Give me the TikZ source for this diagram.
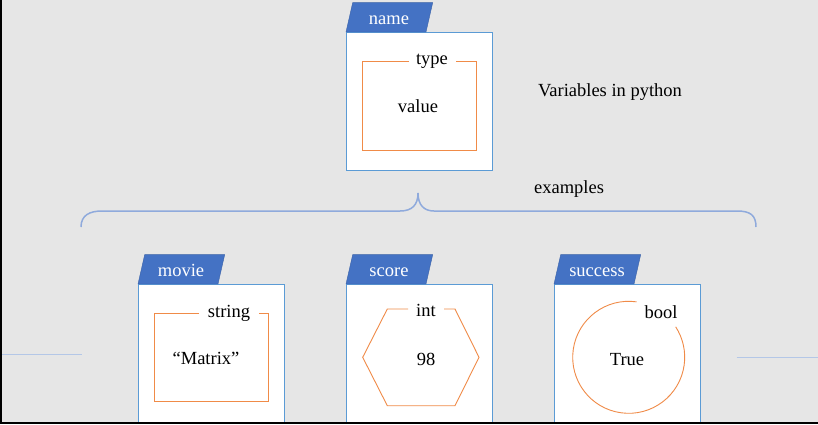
\documentclass[tikz,border=0pt]{standalone}
\usepackage{fontspec}
\setmainfont{Liberation Serif}
\definecolor{bggray}{HTML}{E6E6E6}
\definecolor{tabblue}{HTML}{4472C4}
\definecolor{boxblue}{HTML}{5B9BD5}
\definecolor{kindorange}{HTML}{F08B48}
\definecolor{braceblue}{HTML}{8FAADC}
\definecolor{lineblue}{HTML}{B4C7E7}
\begin{document}
\begin{tikzpicture}[x=1pt, y=-1pt,
    font=\rmfamily\fontsize{18.5}{20}\selectfont,
    frame/.style={fill=white, draw=boxblue, line width=.8pt},
    tab/.style={fill=tabblue, draw=tabblue!85!black, line width=.4pt},
    kind/.style={draw=kindorange, line width=.9pt},
    word/.style={inner sep=0pt, anchor=base}]
        \def\boxw{146}
        \def\boxh{138}
        \def\varbox#1#2#3{%
          \draw [frame] (#1,#2) rectangle ++(\boxw,\boxh) ;
          \filldraw [tab] (#1,#2) -- ++(6.7,-29.4) -- ++(80,0) -- ++(-6.7,29.4) -- cycle ;
          \node [word, white] (#3) at (#1+43,#2-8) {#3} ;}

        \fill [bggray] (0,0) rectangle (818,424) ;
        \useasboundingbox (0,0) rectangle (818,424) ;

        % general form
        \varbox{346}{32}{name}
        \draw [kind] (409,61) -| (362,150) -| (476,61) -- (456,61) ;
        \node [word] (type) at (432,64) {type} ;
        \node [word] (value) at (418,112) {value} ;
        \node [word] (title) at (610,96) {Variables in python} ;

        % brace
        \node [word] (examples) at (569,193) {examples} ;
        \draw [braceblue, line width=1.5pt] (81,227) .. controls (81,215) and (90,211) .. (102,211)
          -- (400,211) .. controls (412,211) and (418,205) .. (418,193)
          .. controls (418,205) and (424,211) .. (434,211)
          -- (737,211) .. controls (750,211) and (756,215) .. (756,227) ;

        % examples
        \varbox{138}{284}{movie}
        \draw [kind] (199,313) -| (154,401) -| (268,313) -- (259,313) ;
        \node [word] (string) at (229,317) {string} ;
        \node [word] (matrix) at (206,364) {“Matrix”} ;

        \varbox{346}{284}{score}
        \draw [kind] (408,309) -- (387.3,309) -- (362.7,357.3) -- (387.3,405.7)
          -- (455,405.7) -- (479,357.3) -- (455,309) -- (444,309) ;
        \node [word] (int) at (426,316) {int} ;
        \node [word] (num) at (426,365) {98} ;

        \varbox{554}{284}{success}
        \draw [kind] (628.7,357.3) ++(-82:56) arc [start angle=-82, end angle=-393, radius=56] ;
        \node [word] (bool) at (661,318) {bool} ;
        \node [word] (true) at (627,365) {True} ;

        \draw [lineblue, line width=.8pt] (0,354.3) -- (82,354.3) ;
        \draw [lineblue, line width=.8pt] (736.7,357.3) -- (818,357.3) ;

        \draw [black, line width=2pt] (1,0) -- (1,423) -- (818,423) ;
      \end{tikzpicture}
\end{document}
